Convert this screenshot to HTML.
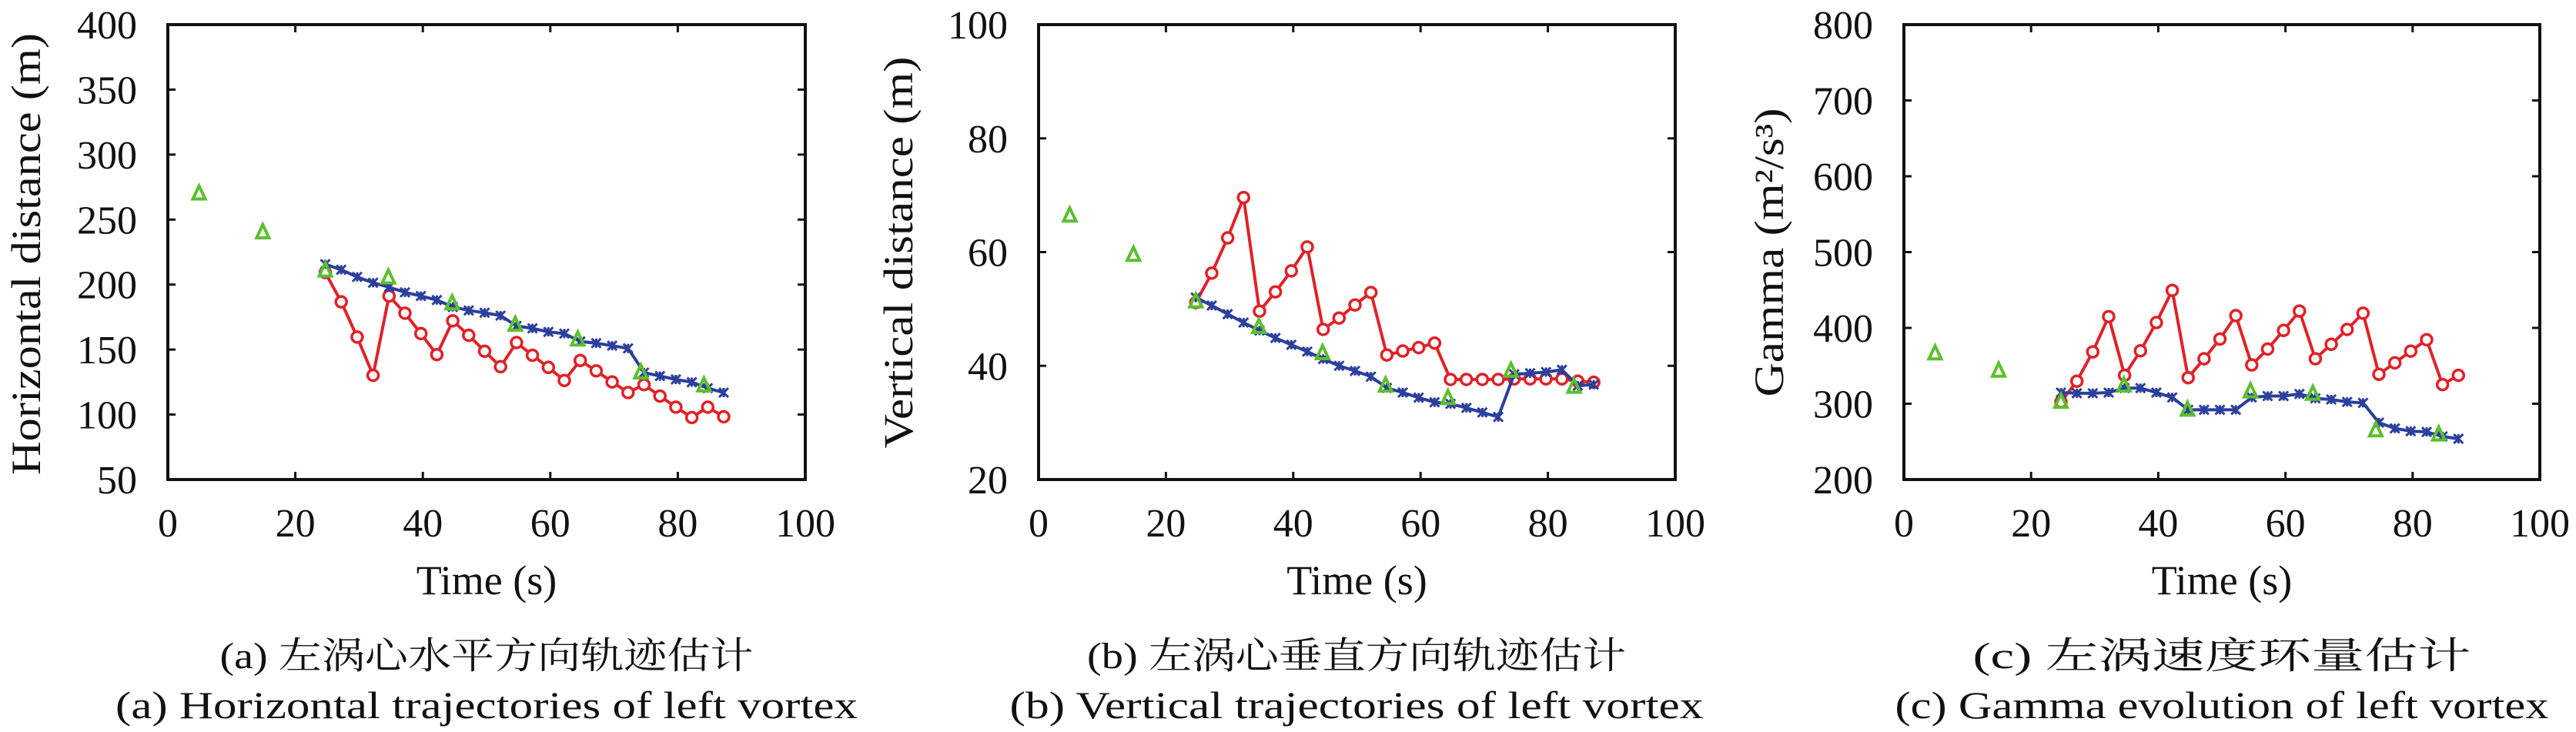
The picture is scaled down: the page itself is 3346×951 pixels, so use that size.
<!DOCTYPE html>
<html><head><meta charset="utf-8">
<style>
html,body{margin:0;padding:0;background:#fff;}
svg{display:block;}
text{font-family:"Liberation Serif","Noto Serif CJK SC",serif;fill:#111;}
</style></head>
<body>
<svg id="fig" width="3346" height="951" viewBox="0 0 3346 951" xmlns="http://www.w3.org/2000/svg"></svg>
<script>
// ---------- data ----------
const timeEst = [24.7,27.2,29.7,32.2,34.7,37.2,39.7,42.2,44.7,47.2,49.7,52.2,54.7,57.2,59.7,62.2,64.7,67.2,69.7,72.2,74.7,77.2,79.7,82.2,84.7,87.2];
const timeObs = [4.9,14.9,24.7,34.6,44.6,54.5,64.3,74.2,84.1];

const horizRed = [209.3,186.7,159.6,130.2,191.2,178,162.3,146.1,172.1,161,148.7,136.8,155.4,145.6,136.3,126.2,141.6,133.6,125.1,116.9,123,114.2,105.7,97.7,105.7,98.3];
const horizBlue = [215.7,211.4,205.9,201.4,198,194,191.2,188.1,182.8,180.1,178.3,176.1,168.2,166.3,163.6,162.3,156.2,154.9,153,150.9,132.3,129.6,127,124.9,120.3,116.9];
const horizGreen = [270,240.1,210.7,205.4,185.5,169,157.6,132.3,122.3];

const vertRed = [51.1,56.3,62.5,69.6,49.6,53,56.7,60.9,46.4,48.4,50.7,52.9,41.9,42.6,43.2,44,37.6,37.6,37.6,37.6,37.7,37.7,37.7,37.7,37.3,37.1];
const vertBlue = [52,50.6,49.1,47.6,46.2,44.9,43.7,42.5,41.2,40,39.1,38.1,36.1,35.3,34.4,33.6,33.3,32.6,31.8,31,38.5,38.7,38.9,39.3,36.5,36.7];
const vertGreen = [66.4,59.5,51.3,46.8,42.2,36.5,34.3,39.1,36.3];

const gammaRed = [302.4,329.7,368.4,414.9,337.5,369.8,407.1,449.5,334.3,359.3,385.3,416.2,351.1,372.1,396.7,422.2,359.3,378.4,398,419.4,338.8,353.9,369.3,384.4,325.2,337.5];
const gammaBlue = [314.7,313.8,313.8,314.7,320.6,320.6,314.7,308.3,292,292,292,292,308.3,310.1,310.1,312.9,307,305.6,302.4,301.1,275.1,267.4,263.8,262.8,256.9,253.7];
const gammaGreen = [366.2,343.4,302.4,323.8,292,316.1,312.9,264.7,259.3];

const xTicks = [0,20,40,60,80,100];
const yTicksA = [50,100,150,200,250,300,350,400];
const yTicksB = [20,40,60,80,100];
const yTicksC = [200,300,400,500,600,700,800];

// ---------- drawing ----------
const NS = "http://www.w3.org/2000/svg";
const svg = document.getElementById('fig');
function mk(tag, attrs, parent){
  const e = document.createElementNS(NS, tag);
  for (const k in attrs) e.setAttribute(k, attrs[k]);
  (parent||svg).appendChild(e);
  return e;
}
const RED="#e02228", BLUE="#2b3f9c", GREEN="#5cbf2e";

function panel(cfg){
  const g = mk('g', {});
  
  
  const L=cfg.left, R=cfg.right, T=32, B=623;
  const sx = v => L + (v-0)/(100-0)*(R-L);
  const sy = v => B - (v-cfg.ymin)/(cfg.ymax-cfg.ymin)*(B-T);
  // axes box
  const box = mk('rect',{x:L,y:T,width:R-L,height:B-T,fill:'none',stroke:'#111','stroke-width':4},g);
  
  
  // x ticks
  xTicks.forEach(v=>{
    const x=sx(v);
    mk('line',{x1:x,y1:B,x2:x,y2:B-10,stroke:'#111','stroke-width':3},g);
    mk('line',{x1:x,y1:T,x2:x,y2:T+10,stroke:'#111','stroke-width':3},g);
    const t=mk('text',{x:x,y:697,'font-size':52,'text-anchor':'middle'},g);
    t.textContent=v;
    
    
  });
  cfg.yt.forEach(v=>{
    const y=sy(v);
    mk('line',{x1:L,y1:y,x2:L+10,y2:y,stroke:'#111','stroke-width':3},g);
    mk('line',{x1:R,y1:y,x2:R-10,y2:y,stroke:'#111','stroke-width':3},g);
    const t=mk('text',{x:L-40,y:y+18,'font-size':52,'text-anchor':'end'},g);
    t.textContent=v;
    
    
  });
  // axis titles
  const xt=mk('text',{x:(L+R)/2,y:772,'font-size':54,'text-anchor':'middle'},g);
  xt.textContent='Time (s)';
  
  
  const yt=mk('text',{x:0,y:0,'font-size':54,'text-anchor':'middle',textLength:cfg.ylen,lengthAdjust:'spacingAndGlyphs',transform:`translate(${cfg.ylx},${cfg.ylc}) rotate(-90)`},g);
  yt.textContent=cfg.ylabel;
  
  
  // captions
  const c1=mk('text',{x:cfg.cx,y:868,'font-size':48,'text-anchor':'middle',textLength:cfg.c1len,lengthAdjust:'spacingAndGlyphs'},g);
  c1.textContent=cfg.cap1;
  
  
  const c2=mk('text',{x:cfg.cx,y:933,'font-size':50,'text-anchor':'middle',textLength:cfg.c2len,lengthAdjust:'spacingAndGlyphs'},g);
  c2.textContent=cfg.cap2;
  
  
  // red series
  const rp=mk('polyline',{points:timeEst.map((t,i)=>sx(t)+','+sy(cfg.red[i])).join(' '),fill:'none',stroke:RED,'stroke-width':4},g);
  
  
  timeEst.forEach((t,i)=>{
    const c=mk('ellipse',{cx:sx(t),cy:sy(cfg.red[i]),rx:7,ry:7,fill:'#fff',stroke:RED,'stroke-width':3.5},g);
    
    
  });
  // blue series
  const bp=mk('polyline',{points:timeEst.map((t,i)=>sx(t)+','+sy(cfg.blue[i])).join(' '),fill:'none',stroke:BLUE,'stroke-width':4},g);
  
  
  timeEst.forEach((t,i)=>{
    const x=sx(t), y=sy(cfg.blue[i]), s=6;
    const m=mk('path',{d:`M${x-s},${y-s}L${x+s},${y+s}M${x-s},${y+s}L${x+s},${y-s}M${x},${y-s}L${x},${y+s}`,stroke:BLUE,'stroke-width':3,fill:'none'},g);
    
    
  });
  // green observations
  timeObs.forEach((t,i)=>{
    const x=sx(t), y=sy(cfg.green[i]);
    const m=mk('polygon',{points:`${x},${y-10} ${x-8},${y+7} ${x+8},${y+7}`,fill:'none',stroke:GREEN,'stroke-width':4},g);
    
    
  });
}

panel({name:'panel-a-horizontal',left:218,right:1046,ymin:50,ymax:400,yt:yTicksA,red:horizRed,blue:horizBlue,green:horizGreen,
  ylabel:'Horizontal distance (m)',ylx:52,ylc:330,ylen:574,cx:632,cap1:'(a) 左涡心水平方向轨迹估计',c1len:693,cap2:'(a) Horizontal trajectories of left vortex',c2len:964});
panel({name:'panel-b-vertical',left:1349,right:2176,ymin:20,ymax:100,yt:yTicksB,red:vertRed,blue:vertBlue,green:vertGreen,
  ylabel:'Vertical distance (m)',ylx:1185,ylc:328,ylen:509,cx:1762,cap1:'(b) 左涡心垂直方向轨迹估计',c1len:700,cap2:'(b) Vertical trajectories of left vortex',c2len:901});
panel({name:'panel-c-gamma',left:2473,right:3299,ymin:200,ymax:800,yt:yTicksC,red:gammaRed,blue:gammaBlue,green:gammaGreen,
  ylabel:'Gamma (m²/s³)',ylx:2316,ylc:328,ylen:375,cx:2886,cap1:'(c) 左涡速度环量估计',c1len:647,cap2:'(c) Gamma evolution of left vortex',c2len:849});
</script>
</body></html>
